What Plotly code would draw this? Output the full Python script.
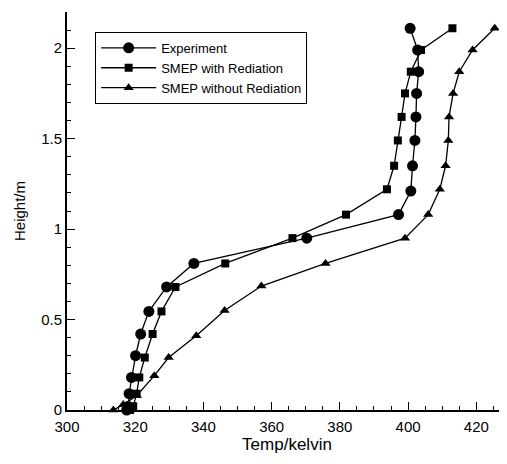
import plotly.graph_objects as go

exp_T = [400.6, 402.8, 403.1, 402.5, 402.3, 402.0, 401.3, 400.8, 397.2, 370.3, 337.2, 329.2, 324.0, 321.6, 320.1, 318.9, 318.2, 318.0, 317.5]
exp_H = [2.11, 1.99, 1.87, 1.75, 1.62, 1.49, 1.35, 1.21, 1.08, 0.95, 0.81, 0.68, 0.545, 0.42, 0.30, 0.18, 0.09, 0.02, 0.0]

rad_T = [413.0, 403.8, 400.8, 399.1, 398.1, 397.0, 395.9, 393.8, 381.8, 366.1, 346.4, 331.8, 327.7, 325.1, 322.8, 321.2, 320.4, 319.4, 318.5]
rad_H = [2.11, 1.99, 1.87, 1.75, 1.62, 1.49, 1.35, 1.22, 1.08, 0.95, 0.81, 0.68, 0.545, 0.42, 0.29, 0.18, 0.09, 0.02, 0.0]

norad_T = [425.4, 418.9, 415.0, 413.2, 412.0, 411.8, 411.0, 409.3, 405.9, 399.1, 375.8, 357.0, 346.2, 337.9, 329.8, 325.6, 320.5, 316.5, 313.6]
norad_H = [2.11, 1.99, 1.87, 1.75, 1.62, 1.49, 1.35, 1.22, 1.08, 0.95, 0.81, 0.685, 0.55, 0.41, 0.29, 0.19, 0.08, 0.03, 0.0]

names = ["Experiment", "SMEP with Rediation", "SMEP without Rediation"]
x_ticks = [300, 320, 340, 360, 380, 400, 420]
y_ticks = [0, 0.5, 1, 1.5, 2]
y_tick_text = ["0", "0.5", "1", "1.5", "2"]

fig = go.Figure()
fig.add_trace(go.Scatter(x=exp_T, y=exp_H, name=names[0], mode="lines+markers",
                         line=dict(color="black", width=1.3), cliponaxis=False,
                         marker=dict(symbol="circle", size=11, color="black")))
fig.add_trace(go.Scatter(x=rad_T, y=rad_H, name=names[1], mode="lines+markers",
                         line=dict(color="black", width=1.3), cliponaxis=False,
                         marker=dict(symbol="square", size=8, color="black")))
fig.add_trace(go.Scatter(x=norad_T, y=norad_H, name=names[2], mode="lines+markers",
                         line=dict(color="black", width=1.3), cliponaxis=False,
                         marker=dict(symbol="triangle-up", size=9, color="black")))

tick_font = dict(family="Liberation Sans, Arial, sans-serif", size=15, color="black")
xt_font = dict(family="Liberation Sans, Arial, sans-serif", size=17, color="black")
yt_font = dict(family="Liberation Sans, Arial, sans-serif", size=15, color="black")

fig.update_layout(
    width=499, height=456,
    margin=dict(l=59, r=0, t=4, b=54),
    paper_bgcolor="white", plot_bgcolor="white",
    font=dict(family="Liberation Sans, Arial, sans-serif", color="black"),
    showlegend=True,
    legend=dict(x=0.064, y=0.95, xanchor="left", yanchor="top",
                bgcolor="white", bordercolor="black", borderwidth=1,
                font=dict(size=13, color="black"), itemwidth=55,
                tracegroupgap=0),
    xaxis=dict(range=[300, 429], tickvals=x_ticks, ticktext=[str(v) for v in x_ticks],
               showgrid=False, zeroline=False, showline=True, linecolor="black", linewidth=2,
               ticks="inside", ticklen=8, tickwidth=1, tickcolor="black",
               minor=dict(dtick=5, ticks="inside", ticklen=4, tickcolor="black", showgrid=False),
               tickfont=tick_font, ticklabelstandoff=2,
               title=dict(text="Temp/kelvin", font=xt_font, standoff=4)),
    yaxis=dict(range=[0, 2.2], tickvals=y_ticks, ticktext=y_tick_text,
               showgrid=False, zeroline=False, showline=True, linecolor="black", linewidth=2,
               ticks="inside", ticklen=8, tickwidth=1, tickcolor="black",
               minor=dict(dtick=0.1, ticks="inside", ticklen=4, tickcolor="black", showgrid=False),
               tickfont=tick_font,
               title=dict(text="Height/m", font=yt_font, standoff=12)),
)

fig.write_html("out.html")
